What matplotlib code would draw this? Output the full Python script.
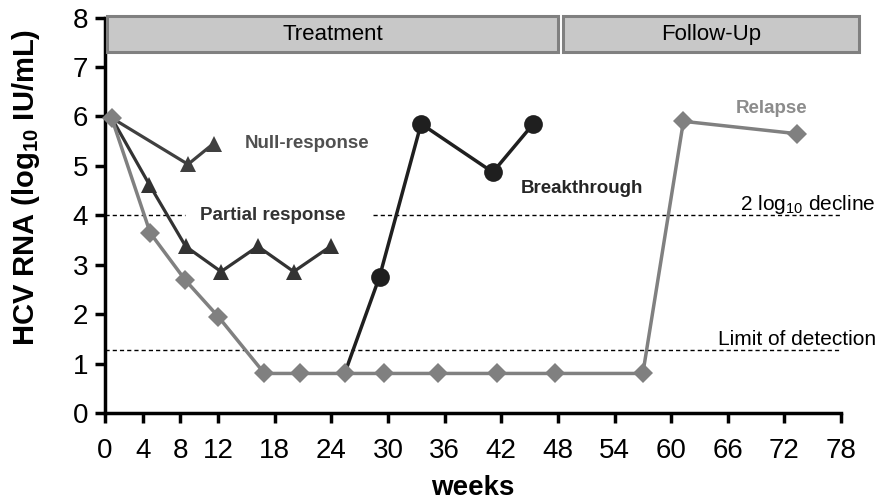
import matplotlib
matplotlib.use("Agg")
import matplotlib.pyplot as plt
from matplotlib.patches import Rectangle

plt.rcParams['font.family'] = ['Liberation Sans', 'DejaVu Sans']
plt.rcParams['mathtext.fontset'] = 'custom'
plt.rcParams['mathtext.rm'] = 'Liberation Sans'
plt.rcParams['mathtext.bf'] = 'Liberation Sans:bold'

# ---- data ----
relapse_weeks = [0.7, 4.8, 8.5, 12.0, 16.9, 20.7, 25.4, 29.6, 35.3, 41.5, 47.7, 57.0, 61.3, 73.3]
relapse_vals = [5.97, 3.64, 2.69, 1.95, 0.8, 0.8, 0.8, 0.8, 0.8, 0.8, 0.8, 0.8, 5.9, 5.65]

null_weeks = [0.7, 8.8, 11.5]
null_vals = [5.97, 5.03, 5.45]

partial_weeks = [0.7, 4.7, 8.55, 12.3, 16.2, 20.0, 23.9]
partial_vals = [5.97, 4.62, 3.37, 2.86, 3.37, 2.86, 3.37]

break_weeks = [25.4, 29.1, 33.5, 41.1, 45.4]
break_vals = [0.8, 2.76, 5.85, 4.87, 5.85]

decline_level = 4.0
lod_level = 1.28

x_ticks = [0, 4, 8, 12, 18, 24, 30, 36, 42, 48, 54, 60, 66, 72, 78]
y_ticks = [0, 1, 2, 3, 4, 5, 6, 7, 8]

phases = ["Treatment", "Follow-Up"]
phase_start = [0.2, 48.5]
phase_end = [48.0, 79.9]

# ---- figure ----
W, H = 882, 501
fig = plt.figure(figsize=(W / 100, H / 100), dpi=100)
ax = fig.add_axes([105 / W, 1 - 413 / H, 736 / W, 395.5 / H])
ax.set_xlim(0, 78)
ax.set_ylim(0, 8)

for s in ['top', 'right']:
    ax.spines[s].set_visible(False)
for s in ['left', 'bottom']:
    ax.spines[s].set_linewidth(2.5)
    ax.spines[s].set_color('black')

ax.set_xticks(x_ticks)
ax.set_yticks(y_ticks)
ax.tick_params(axis='both', direction='out', length=7, width=2.5, labelsize=20, colors='black')
ax.tick_params(axis='x', pad=11)
ax.tick_params(axis='y', pad=5)

ax.set_ylabel(r'HCV RNA (log$_{\mathbf{10}}$ IU/mL)', fontsize=21, fontweight='bold')
ax.yaxis.set_label_coords(-0.086, 0.57)
ax.set_xlabel('weeks', fontsize=20, fontweight='bold')
ax.xaxis.set_label_coords(0.5, -0.158)

# dashed reference lines
dash = (0, (3, 2.2))
ax.plot([0, 8.5], [decline_level] * 2, ls=dash, color='black', lw=1.0, zorder=1)
ax.plot([28.4, 78], [decline_level] * 2, ls=dash, color='black', lw=1.0, zorder=1)
ax.plot([0, 78], [lod_level] * 2, ls=dash, color='black', lw=1.0, zorder=1)

# series
ax.plot(break_weeks, break_vals, color='#1f1f1f', lw=2.5, marker='o', ms=13.5,
        markeredgewidth=0, zorder=3, clip_on=False,
        markevery=list(range(1, len(break_weeks))))
ax.plot(null_weeks, null_vals, color='#404040', lw=2.3, marker='^', ms=12,
        markeredgewidth=0, zorder=3, clip_on=False,
        markevery=list(range(1, len(null_weeks))))
ax.plot(partial_weeks, partial_vals, color='#333333', lw=2.3, marker='^', ms=12,
        markeredgewidth=0, zorder=3, clip_on=False,
        markevery=list(range(1, len(partial_weeks))))
ax.plot(relapse_weeks, relapse_vals, color='#808080', lw=2.5, marker='D', ms=10,
        markeredgewidth=0, zorder=4, clip_on=False)

# phase boxes
for name, a, b in zip(phases, phase_start, phase_end):
    rect = Rectangle((a, 7.3), b - a, 0.73, facecolor='#c8c8c8', edgecolor='#808080',
                     lw=2.2, clip_on=False, zorder=5)
    ax.add_patch(rect)
    ax.text((a + b) / 2, 7.665, name, ha='center', va='center', fontsize=16,
            color='black', zorder=6)

# annotations
ax.text(21.4, 5.36, 'Null-response', ha='center', va='baseline', fontsize=13.5,
        fontweight='bold', color='#505050')
ax.text(17.8, 3.91, 'Partial response', ha='center', va='baseline', fontsize=13.5,
        fontweight='bold', color='#333333')
ax.text(44.1, 4.46, 'Breakthrough', ha='left', va='baseline', fontsize=13.5,
        fontweight='bold', color='#262626')
ax.text(66.8, 6.07, 'Relapse', ha='left', va='baseline', fontsize=13.5,
        fontweight='bold', color='#8c8c8c')
ax.text(81.6, 4.11, r'2 log$_{\mathrm{10}}$ decline', ha='right', va='baseline',
        fontsize=15, color='black', clip_on=False)
ax.text(81.7, 1.38, 'Limit of detection', ha='right', va='baseline',
        fontsize=15, color='black', clip_on=False)

fig.savefig('out.png', dpi=100)
